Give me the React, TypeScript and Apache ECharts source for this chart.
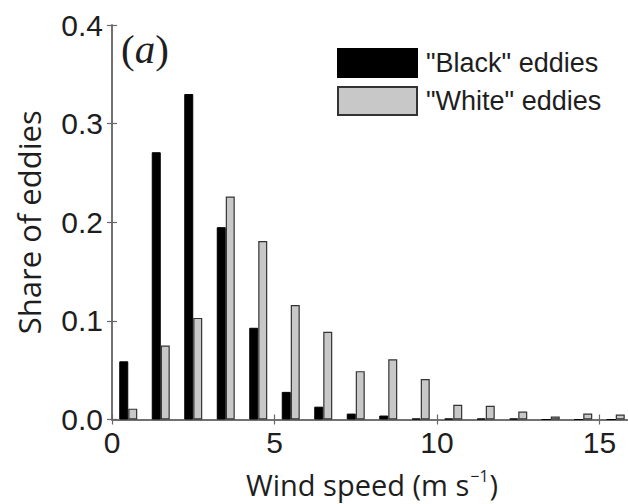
import React, { useEffect, useRef } from "react";
import * as echarts from "echarts";

const binCenters = [0.5, 1.5, 2.5, 3.5, 4.5, 5.5, 6.5, 7.5, 8.5, 9.5, 10.5, 11.5, 12.5, 13.5, 14.5, 15.5];
const blackEddies = [0.059, 0.271, 0.330, 0.195, 0.093, 0.028, 0.013, 0.006, 0.004, 0.001, 0.001, 0.001, 0.001, 0, 0, 0];
const whiteEddies = [0.011, 0.075, 0.103, 0.226, 0.181, 0.116, 0.089, 0.049, 0.061, 0.041, 0.015, 0.014, 0.008, 0.003, 0.006, 0.005];
const seriesNames = ['"Black" eddies', '"White" eddies'];
const xTicks = { min: 0, max: 16, interval: 5 };
const yTicks = { min: 0, max: 0.4, interval: 0.1 };

const AXIS_COLOR = "#686868";
const TEXT_COLOR = "#1e1e1e";

export default function App() {
  const ref = useRef<HTMLDivElement>(null);
  useEffect(() => {
    if (!ref.current) return;
    const chart = echarts.init(ref.current, undefined, { renderer: "svg" });
    const axisCommon = {
      axisLine: { show: true, lineStyle: { color: AXIS_COLOR, width: 1.5 } },
      axisTick: { show: true, inside: true, length: 5, lineStyle: { color: AXIS_COLOR, width: 1.2 } },
      splitLine: { show: false },
    };
    chart.setOption({
      animation: false,
      backgroundColor: "#fff",
      grid: { left: 112, right: 8, top: 25, bottom: 82, containLabel: false },
      legend: {
        orient: "vertical",
        left: 337,
        top: 48,
        padding: 0,
        itemWidth: 79,
        itemHeight: 28,
        itemGap: 8,
        icon: "rect",
        data: seriesNames,
        textStyle: { fontFamily: "Liberation Sans", fontSize: 27, color: TEXT_COLOR, padding: [0, 0, 0, 4] },
      },
      graphic: [
        {
          type: "text",
          left: 121,
          top: 28,
          style: {
            text: "{p|(}{i|a}{p|)}",
            rich: {
              p: { fontFamily: "Liberation Serif", fontSize: 41, fill: TEXT_COLOR },
              i: { fontFamily: "Liberation Serif", fontStyle: "italic", fontSize: 41, fill: TEXT_COLOR },
            },
          },
        },
      ],
      xAxis: [
        {
          type: "value",
          min: xTicks.min,
          max: xTicks.max,
          interval: xTicks.interval,
          position: "bottom",
          ...axisCommon,
          axisLabel: {
            showMaxLabel: false,
            margin: 8,
            fontFamily: "Liberation Sans",
            fontSize: 30,
            color: TEXT_COLOR,
          },
          name: "{n|Wind speed (m s}{s|−1}{n|)}",
          nameLocation: "middle",
          nameGap: 48,
          nameTextStyle: {
            rich: {
              n: { fontFamily: "Open Sans", fontSize: 29, color: TEXT_COLOR, lineHeight: 34 },
              s: { fontFamily: "Open Sans", fontSize: 16, color: TEXT_COLOR, lineHeight: 34, verticalAlign: "top", padding: [0, 1, 0, 1] },
            },
          },
        },
        {
          type: "value",
          min: xTicks.min,
          max: xTicks.max,
          interval: xTicks.interval,
          position: "top",
          ...axisCommon,
          axisLabel: { show: false },
        },
      ],
      yAxis: [
        {
          type: "value",
          min: yTicks.min,
          max: yTicks.max,
          interval: yTicks.interval,
          position: "left",
          ...axisCommon,
          axisLabel: {
            margin: 9,
            fontFamily: "Liberation Sans",
            fontSize: 30,
            color: TEXT_COLOR,
            formatter: (v: number) => v.toFixed(1),
          },
          name: "Share of eddies",
          nameLocation: "middle",
          nameGap: 68,
          nameTextStyle: { fontFamily: "Open Sans", fontSize: 31, color: TEXT_COLOR },
        },
        {
          type: "value",
          min: yTicks.min,
          max: yTicks.max,
          interval: yTicks.interval,
          position: "right",
          ...axisCommon,
          axisLabel: { show: false },
        },
      ],
      series: [
        {
          name: seriesNames[0],
          type: "bar",
          xAxisIndex: 0,
          yAxisIndex: 0,
          barWidth: 9,
          barGap: "0%",
          itemStyle: { color: "#000", borderColor: "#000", borderWidth: 1 },
          data: binCenters.map((x, i) => [x, blackEddies[i]]),
        },
        {
          name: seriesNames[1],
          type: "bar",
          xAxisIndex: 0,
          yAxisIndex: 0,
          barWidth: 9,
          barGap: "0%",
          itemStyle: { color: "#c8c8c8", borderColor: "#333", borderWidth: 1.2 },
          data: binCenters.map((x, i) => [x, whiteEddies[i]]),
        },
      ],
    });
    return () => chart.dispose();
  }, []);
  return (
    <div style={{ position: "fixed", left: 0, top: 0, width: 628, height: 504, overflow: "hidden", background: "#fff" }}>
      <div ref={ref} style={{ width: 640, height: 504 }} />
    </div>
  );
}
